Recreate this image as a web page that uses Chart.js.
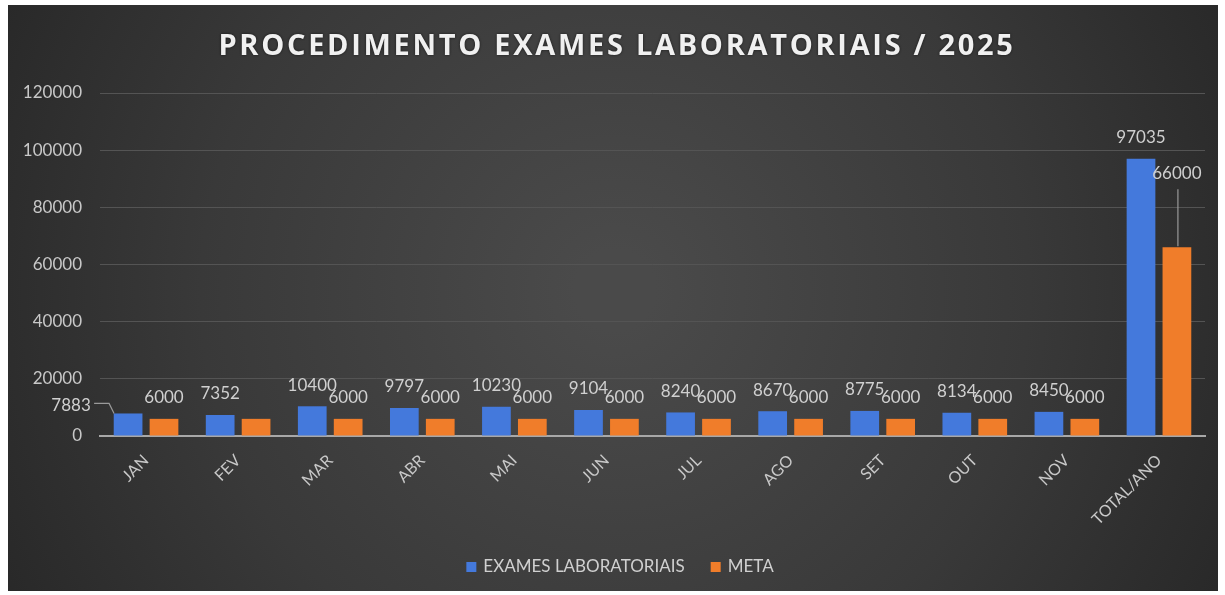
<!DOCTYPE html>
<html>
<head>
<meta charset="utf-8">
<script src="https://cdn.jsdelivr.net/npm/chart.js@4.4.1/dist/chart.umd.min.js"></script>
<style>
html,body{margin:0;padding:0;background:#ffffff;}
#wrap{position:relative;width:1225px;height:595px;}
canvas{display:block;}
</style>
</head>
<body>
<div id="wrap"><canvas id="c" width="1225" height="595"></canvas></div>
<script>
const TITLE = 'PROCEDIMENTO EXAMES LABORATORIAIS / 2025';
const categories = ['JAN','FEV','MAR','ABR','MAI','JUN','JUL','AGO','SET','OUT','NOV','TOTAL/ANO'];
const exames = [7883, 7352, 10400, 9797, 10230, 9104, 8240, 8670, 8775, 8134, 8450, 97035];
const meta = [6000, 6000, 6000, 6000, 6000, 6000, 6000, 6000, 6000, 6000, 6000, 66000];
const seriesNames = ['EXAMES LABORATORIAIS', 'META'];
const seriesColors = ['#4479dc', '#f07d2a'];
const yTicks = [0, 20000, 40000, 60000, 80000, 100000, 120000];

const bgPlugin = {
  id: 'bg',
  beforeDraw(chart) {
    const ctx = chart.ctx;
    ctx.save();
    const g = ctx.createRadialGradient(615, 290, 40, 615, 290, 720);
    g.addColorStop(0, '#4a4a4a');
    g.addColorStop(0.55, '#393939');
    g.addColorStop(1, '#262626');
    ctx.fillStyle = g;
    ctx.fillRect(8, 5, 1210, 586);
    ctx.font = 'bold 29px "Open Sans", sans-serif';
    ctx.letterSpacing = '2.7px';
    ctx.fillStyle = '#f0f0f0';
    ctx.textAlign = 'center';
    ctx.textBaseline = 'middle';
    ctx.shadowColor = 'rgba(0,0,0,0.6)';
    ctx.shadowBlur = 3;
    ctx.fillText(TITLE, 617, 47);
    ctx.restore();
  }
};

const legendPlugin = {
  id: 'customLegend',
  afterDraw(chart) {
    const ctx = chart.ctx;
    ctx.save();
    ctx.font = '17px Lato, sans-serif';
    ctx.textBaseline = 'middle';
    ctx.textAlign = 'left';
    const box = 10, gapBox = 7, gapItem = 26;
    const widths = seriesNames.map(n => ctx.measureText(n).width);
    let total = 0;
    widths.forEach((w, i) => { total += box + gapBox + w + (i < widths.length - 1 ? gapItem : 0); });
    let x = 620 - total / 2;
    const y = 567;
    seriesNames.forEach((n, i) => {
      ctx.fillStyle = seriesColors[i];
      ctx.fillRect(x, y - box / 2, box, box);
      x += box + gapBox;
      ctx.fillStyle = '#d0d0d0';
      ctx.fillText(n, x, y);
      x += widths[i] + gapItem;
    });
    ctx.restore();
  }
};

const labelPlugin = {
  id: 'vlabels',
  afterDatasetsDraw(chart) {
    const ctx = chart.ctx;
    ctx.save();
    ctx.font = '17px Lato, sans-serif';
    ctx.fillStyle = '#d0d0d0';
    ctx.textAlign = 'center';
    ctx.textBaseline = 'middle';
    ctx.strokeStyle = '#9a9a9a';
    ctx.lineWidth = 1.2;
    chart.data.datasets.forEach((ds, di) => {
      const metaEl = chart.getDatasetMeta(di);
      metaEl.data.forEach((el, i) => {
        if (di === 1 && i === 1) return; // label hidden in the original (overlap)
        const txt = String(ds.data[i]);
        let x = el.x, y = el.y - 21;
        if (di === 0 && i === 0) {
          x = el.x - 57; y = el.y - 8;
          ctx.beginPath();
          ctx.moveTo(x + 23, y - 2);
          ctx.lineTo(x + 38, y - 2);
          ctx.lineTo(el.x - 14, el.y);
          ctx.stroke();
        } else if (di === 1 && i === categories.length - 1) {
          y = el.y - 74;
          ctx.beginPath();
          ctx.moveTo(el.x + 1, y + 16);
          ctx.lineTo(el.x + 1, el.y - 1);
          ctx.stroke();
        }
        ctx.fillText(txt, x, y);
      });
    });
    ctx.restore();
  }
};

new Chart(document.getElementById('c'), {
  type: 'bar',
  data: {
    labels: categories,
    datasets: [
      { label: seriesNames[0], data: exames, backgroundColor: seriesColors[0], borderWidth: 0 },
      { label: seriesNames[1], data: meta, backgroundColor: seriesColors[1], borderWidth: 0 }
    ]
  },
  options: {
    responsive: false,
    animation: false,
    devicePixelRatio: 1,
    categoryPercentage: 0.78,
    barPercentage: 0.8,
    layout: { padding: { top: 93, left: 10, right: 20, bottom: 62 } },
    plugins: {
      title: { display: false },
      tooltip: { enabled: false },
      legend: { display: false }
    },
    scales: {
      x: {
        grid: { display: false, drawTicks: false },
        border: { display: true, color: '#a8a8a8', width: 2 },
        ticks: {
          color: '#c8c8c8',
          font: { family: 'Lato, sans-serif', size: 16 },
          minRotation: 45, maxRotation: 45, padding: 15
        },
        afterFit(s) { s.height = 97; }
      },
      y: {
        min: 0, max: 120000,
        afterBuildTicks(s) { s.ticks = yTicks.map(v => ({ value: v })); },
        grid: { color: '#545454', lineWidth: 1, drawTicks: false },
        border: { display: false },
        ticks: {
          color: '#c8c8c8',
          font: { family: 'Lato, sans-serif', size: 17 },
          padding: 18,
          callback: v => String(v)
        },
        afterFit(s) { s.width = 90; }
      }
    }
  },
  plugins: [bgPlugin, labelPlugin, legendPlugin]
});
</script>
</body>
</html>
